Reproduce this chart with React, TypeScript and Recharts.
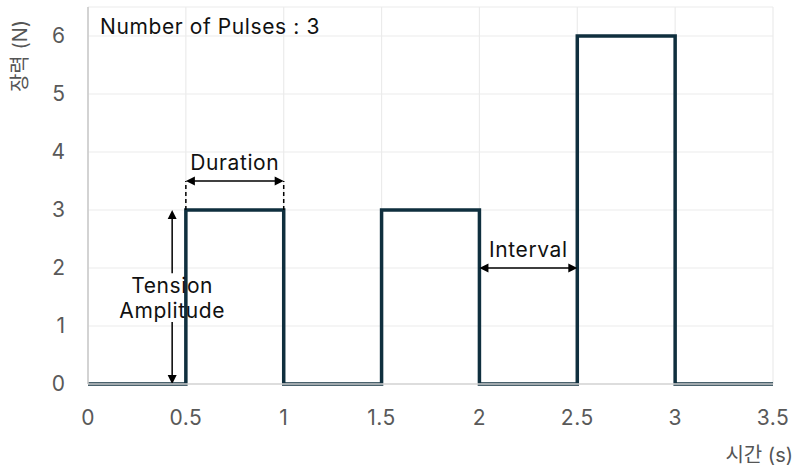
import React from 'react';
import { LineChart, Line, XAxis, YAxis, CartesianGrid, ReferenceLine } from 'recharts';

// Step signal: time (s) and tension (N)
const timePoints = [0, 0.5, 0.5, 1, 1, 1.5, 1.5, 2, 2, 2.5, 2.5, 3, 3, 3.5];
const tensionValues = [0, 0, 3, 3, 0, 0, 3, 3, 0, 0, 6, 6, 0, 0];
const xTicks = [0, 0.5, 1, 1.5, 2, 2.5, 3, 3.5];
const yTicks = [0, 1, 2, 3, 4, 5, 6];

// Annotations
const pulseCountText = 'Number of Pulses : 3';
const durationSpan = [0.5, 1];
const durationLevel = 3.5;
const durationBase = 3;
const intervalSpan = [2, 2.5];
const intervalLevel = 2;
const amplitudeX = 0.43;
const amplitudeRange = [0, 3];
const amplitudeGap = [1.07, 1.91];
const amplitudeTextLevel = 1.5;

const data = timePoints.map((t, i) => ({ t, v: tensionValues[i] }));

const FONT = 'Inter, "Noto Sans CJK KR", sans-serif';
const LINE_COLOR = '#0f2f3e';
const ANN_SIZE = 21;
const ANN_SPACING = 0.6;

type Seg = { x1: number; y1: number; x2: number; y2: number };

const head = (tx: number, ty: number, fx: number, fy: number) => {
  const dx = tx - fx;
  const dy = ty - fy;
  const len = Math.sqrt(dx * dx + dy * dy) || 1;
  const ux = dx / len;
  const uy = dy / len;
  const L = 9;
  const W = 4.5;
  const bx = tx - ux * L;
  const by = ty - uy * L;
  return `${tx},${ty} ${bx - uy * W},${by + ux * W} ${bx + uy * W},${by - ux * W}`;
};

const arrowShape = (start: boolean, end: boolean, text?: string) => (p: any) => {
  const { x1, y1, x2, y2 } = p as Seg;
  const dx = x2 - x1;
  const dy = y2 - y1;
  const len = Math.sqrt(dx * dx + dy * dy) || 1;
  const ux = dx / len;
  const uy = dy / len;
  const sx = start ? x1 + ux * 8 : x1;
  const sy = start ? y1 + uy * 8 : y1;
  const ex = end ? x2 - ux * 8 : x2;
  const ey = end ? y2 - uy * 8 : y2;
  return (
    <g>
      <line x1={sx} y1={sy} x2={ex} y2={ey} stroke="#000" strokeWidth={1.5} />
      {start && <polygon points={head(x1, y1, x2, y2)} fill="#000" />}
      {end && <polygon points={head(x2, y2, x1, y1)} fill="#000" />}
      {text && (
        <text
          x={(x1 + x2) / 2}
          y={Math.min(y1, y2) - 11}
          textAnchor="middle"
          fontSize={ANN_SIZE}
          letterSpacing={ANN_SPACING}
          fill="#111"
          fontFamily={FONT}
        >
          {text}
        </text>
      )}
    </g>
  );
};

const dashedShape = (p: any) => {
  const { x1, y1, x2, y2 } = p as Seg;
  return <line x1={x1} y1={y1} x2={x2} y2={y2} stroke="#000" strokeWidth={1.5} strokeDasharray="4 3" />;
};

const textShape = (lines: string[], dx: number, dys: number[], anchor: string) => (p: any) => {
  const { x1, y1 } = p as Seg;
  return (
    <text
      x={x1 + dx}
      y={y1}
      textAnchor={anchor as any}
      fontSize={ANN_SIZE}
      letterSpacing={ANN_SPACING}
      fill="#111"
      fontFamily={FONT}
    >
      {lines.map((l, i) => (
        <tspan key={i} x={x1 + dx} y={y1 + dys[i]}>
          {l}
        </tspan>
      ))}
    </text>
  );
};

const xLabel = (props: any) => {
  const vb = props.viewBox || {};
  return (
    <text x={vb.x + vb.width + 20} y={vb.y + 78} textAnchor="end" fontSize={20} fill="#555" fontFamily={FONT}>
      시간 (s)
    </text>
  );
};

const yLabel = (props: any) => {
  const vb = props.viewBox || {};
  const cx = vb.x + 20;
  const cy = vb.y + 49;
  return (
    <text
      x={cx}
      y={cy}
      textAnchor="middle"
      dominantBaseline="central"
      transform={`rotate(-90, ${cx}, ${cy})`}
      fontSize={20}
      fill="#555"
      fontFamily={FONT}
    >
      장력 (N)
    </text>
  );
};

export default function App() {
  return (
    <div style={{ position: 'absolute', left: 0, top: 0, width: 800, height: 476, background: '#fff' }}>
      <LineChart
        width={800}
        height={476}
        data={data}
        margin={{ top: 7, right: 27, left: 0, bottom: 12 }}
        style={{ fontFamily: FONT }}
      >
        <CartesianGrid stroke="#ebebeb" strokeWidth={1.2} />
        <XAxis
          dataKey="t"
          type="number"
          domain={[0, 3.5]}
          ticks={xTicks}
          height={80}
          tickLine={false}
          tickSize={6}
          tickMargin={20}
          axisLine={{ stroke: '#d4d4d4', strokeWidth: 1.5 }}
          tick={{ fontSize: 21, fill: '#595959', letterSpacing: 0.5 }}
          label={{ content: xLabel }}
        />
        <YAxis
          type="number"
          domain={[0, 6.5]}
          ticks={yTicks}
          width={88}
          tickLine={false}
          tickSize={6}
          tickMargin={17}
          axisLine={{ stroke: '#c8c8c8', strokeWidth: 1.5 }}
          tick={{ fontSize: 21, fill: '#595959' }}
          label={{ content: yLabel }}
        />
        <Line
          dataKey="v"
          type="linear"
          stroke={LINE_COLOR}
          strokeWidth={3.5}
          dot={false}
          activeDot={false}
          isAnimationActive={false}
        />
        <ReferenceLine
          segment={[{ x: durationSpan[0], y: durationBase }, { x: durationSpan[0], y: durationLevel }]}
          shape={dashedShape}
        />
        <ReferenceLine
          segment={[{ x: durationSpan[1], y: durationBase }, { x: durationSpan[1], y: durationLevel }]}
          shape={dashedShape}
        />
        <ReferenceLine
          segment={[{ x: durationSpan[0], y: durationLevel }, { x: durationSpan[1], y: durationLevel }]}
          shape={arrowShape(true, true, 'Duration')}
        />
        <ReferenceLine
          segment={[{ x: intervalSpan[0], y: intervalLevel }, { x: intervalSpan[1], y: intervalLevel }]}
          shape={arrowShape(true, true, 'Interval')}
        />
        <ReferenceLine
          segment={[{ x: amplitudeX, y: amplitudeGap[1] }, { x: amplitudeX, y: amplitudeRange[1] }]}
          shape={arrowShape(false, true)}
        />
        <ReferenceLine
          segment={[{ x: amplitudeX, y: amplitudeGap[0] }, { x: amplitudeX, y: amplitudeRange[0] }]}
          shape={arrowShape(false, true)}
        />
        <ReferenceLine
          segment={[{ x: amplitudeX, y: amplitudeTextLevel }, { x: amplitudeX, y: amplitudeTextLevel }]}
          shape={textShape(['Tension', 'Amplitude'], 0, [-4, 21], 'middle')}
        />
        <ReferenceLine
          segment={[{ x: 0, y: 6.5 }, { x: 0, y: 6.5 }]}
          shape={textShape([pulseCountText], 12, [27], 'start')}
        />
      </LineChart>
    </div>
  );
}
